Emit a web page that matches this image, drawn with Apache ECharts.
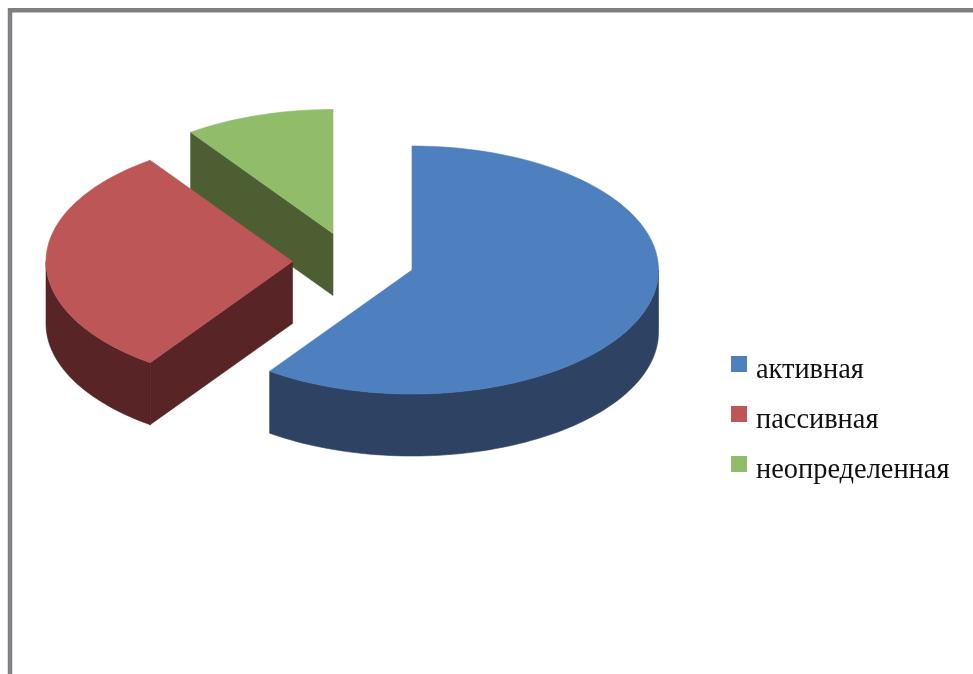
<!DOCTYPE html>
<html>
<head>
<meta charset="utf-8">
<style>html,body{margin:0;padding:0;background:#fff}#c{width:973px;height:674px}</style>
<script src="https://cdn.jsdelivr.net/npm/echarts@6/dist/echarts.min.js"></script>
</head>
<body>
<div id="c"></div>
<script>
// Data
const categories = ['активная', 'пассивная', 'неопределенная'];
const values = [59.8, 30.4, 9.8];

// Appearance
const topColors = ['#4e80c0', '#bd5656', '#91bd6a'];
const sideColors = ['#2e4364', '#582426', '#4c5e32'];
const centers = [[412, 270], [292.5, 261.5], [333, 233.5]];
const RX = 246.5, RY = 124, DEPTH = 62;
const drawOrder = [2, 1, 0];

const total = values.reduce((a, b) => a + b, 0);
const TAU = Math.PI * 2;
const angleRanges = [];
values.reduce((acc, v, i) => {
  const next = acc + v / total * TAU;
  angleRanges[i] = [acc, next];
  return next;
}, 0);

function pt(c, a, dz) {
  return [c[0] + RX * Math.sin(a), c[1] - RY * Math.cos(a) + (dz || 0)];
}
function arc(c, a0, a1, dz) {
  const n = Math.max(2, Math.ceil((a1 - a0) / TAU * 240));
  const out = [];
  for (let i = 0; i <= n; i++) out.push(pt(c, a0 + (a1 - a0) * i / n, dz));
  return out;
}
function poly(points, color, z2) {
  return { type: 'polygon', z2: z2,
    shape: { points: points },
    style: { fill: color, stroke: color, lineWidth: 0.6 } };
}
function renderSlice(idx) {
  return function (params, api) {
    const share = api.value(0);
    const r = angleRanges[idx];
    const a0 = r[0], a1 = r[0] + share / total * TAU;
    const c = centers[idx], side = sideColors[idx], top = topColors[idx];
    const children = [];
    // outer wall: the part of the rim facing the viewer
    const w0 = Math.max(a0, Math.PI / 2), w1 = Math.min(a1, Math.PI * 3 / 2);
    if (w1 > w0) {
      children.push(poly(arc(c, w0, w1, 0).concat(arc(c, w0, w1, DEPTH).reverse()), side, 1));
    }
    // cut faces running from the apex to the rim
    const cutFace = a => {
      const p = pt(c, a, 0);
      return poly([[c[0], c[1]], p, [p[0], p[1] + DEPTH], [c[0], c[1] + DEPTH]], side, 2);
    };
    if (Math.sin(a0) < -1e-6) children.push(cutFace(a0));
    if (Math.sin(a1) > 1e-6) children.push(cutFace(a1));
    // top face
    children.push(poly([[c[0], c[1]]].concat(arc(c, a0, a1, 0)), top, 3));
    return { type: 'group', children: children };
  };
}

const chart = echarts.init(document.getElementById('c'), null, { renderer: 'canvas' });
chart.setOption({
  animation: false,
  backgroundColor: '#ffffff',
  legend: {
    data: categories,
    orient: 'vertical',
    left: 731,
    top: 356,
    padding: 0,
    itemWidth: 16,
    itemHeight: 16,
    itemGap: 21,
    icon: 'rect',
    selectedMode: false,
    formatter: '{t|{name}}',
    textStyle: {
      rich: {
        t: {
          fontFamily: '"Liberation Serif", serif',
          fontSize: 28.4,
          color: '#111',
          padding: [14, 0, 0, 4]
        }
      }
    }
  },
  graphic: [{
    type: 'polyline',
    z: 10,
    shape: { points: [[10, 700], [10, 10.3], [1000, 10.3]] },
    style: { stroke: '#7f7f85', lineWidth: 4.5, fill: null }
  }],
  series: drawOrder.map(i => ({
    type: 'custom',
    name: categories[i],
    coordinateSystem: 'none',
    itemStyle: { color: topColors[i] },
    data: [[values[i]]],
    silent: true,
    z: 2 + drawOrder.indexOf(i),
    renderItem: renderSlice(i)
  }))
});
</script>
</body>
</html>
